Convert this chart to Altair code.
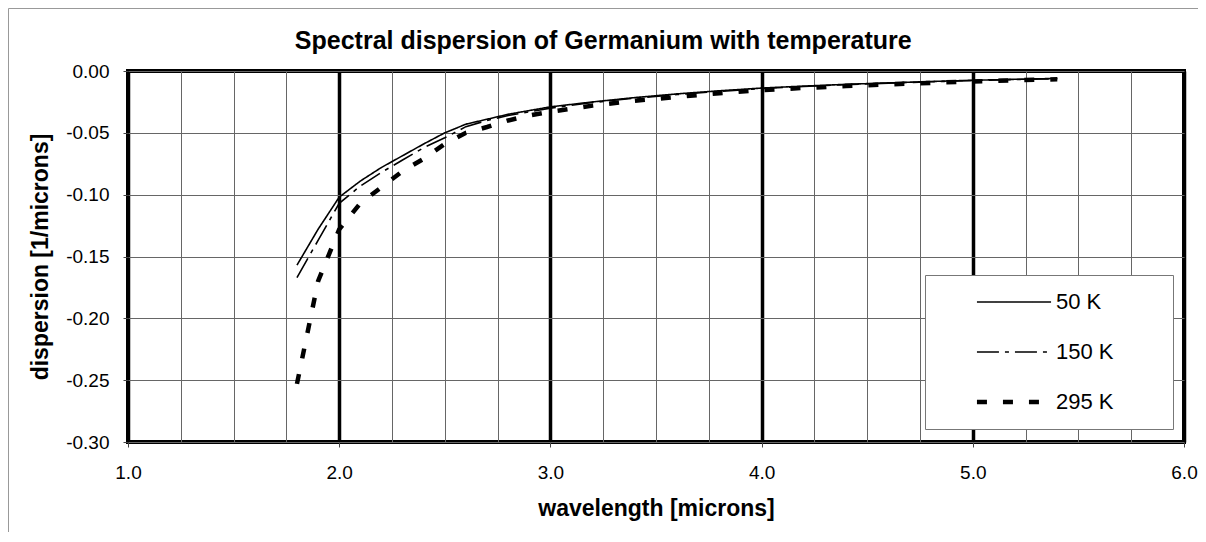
import altair as alt
import pandas as pd

# ---- data ----
series_names = ["50 K", "150 K", "295 K"]

wl = [1.8, 1.9, 2.0, 2.1, 2.2, 2.3, 2.4, 2.5, 2.6, 2.7, 2.8, 2.9, 3.0,
      3.2, 3.4, 3.6, 3.8, 4.0, 4.2, 4.4, 4.6, 4.8, 5.0, 5.2, 5.4]

disp_50 = [-0.157, -0.128, -0.102, -0.089, -0.078, -0.0685, -0.059, -0.050, -0.043,
           -0.039, -0.035, -0.032, -0.029, -0.025, -0.0215, -0.0185, -0.016, -0.0138,
           -0.0122, -0.0108, -0.0096, -0.0085, -0.0075, -0.0067, -0.0060]
disp_150 = [-0.167, -0.137, -0.107, -0.093, -0.082, -0.072, -0.062, -0.054, -0.045,
            -0.040, -0.036, -0.033, -0.030, -0.0255, -0.022, -0.019, -0.0165, -0.0142,
            -0.0125, -0.0110, -0.0098, -0.0087, -0.0077, -0.0069, -0.0062]
disp_295 = [-0.253, -0.170, -0.128, -0.107, -0.094, -0.081, -0.071, -0.059, -0.050,
            -0.0453, -0.040, -0.036, -0.033, -0.028, -0.024, -0.021, -0.018, -0.0155,
            -0.0137, -0.0122, -0.0108, -0.0096, -0.0085, -0.0075, -0.0067]

x_tick_values = [1.0, 1.25, 1.5, 1.75, 2.0, 2.25, 2.5, 2.75, 3.0, 3.25, 3.5, 3.75, 4.0,
                 4.25, 4.5, 4.75, 5.0, 5.25, 5.5, 5.75, 6.0]
y_tick_values = [-0.30, -0.25, -0.20, -0.15, -0.10, -0.05, 0.0]

frames = []
for name, vals in zip(series_names, [disp_50, disp_150, disp_295]):
    frames.append(pd.DataFrame({"wavelength": wl, "dispersion": vals, "series": name}))
df = pd.concat(frames, ignore_index=True)

FONT = "Liberation Sans"
W, H = 1056, 371
PAD_L, PAD_T, PAD_R, PAD_B = 120, 63, 14, 90
THIN, THICK = 1.6, 4.5

x_scale = alt.Scale(domain=[1.0, 6.0], nice=False, zero=False)
y_scale = alt.Scale(domain=[-0.30, 0.0], nice=False, zero=False)

legend = alt.Legend(
    title=None, orient="none", legendX=797, legendY=204, direction="vertical",
    fillColor="white", strokeColor="#777777", padding=16,
    # a horizontal stroke sample; the trailing move widens the legend box
    symbolType="M-3,0H3M10.8,0", symbolSize=610, symbolStrokeColor="black",
    symbolStrokeWidth={"expr": f"datum.value === '295 K' ? {THICK} : {THIN}"},
    symbolOffset=62, labelFont=FONT, labelFontSize=22, labelColor="black",
    labelOffset=31, rowPadding=28,
)

lines = alt.Chart(df).mark_line(color="black", clip=True).encode(
    x=alt.X("wavelength:Q", scale=x_scale, axis=alt.Axis(
        values=x_tick_values,
        labelExpr="datum.value % 1 === 0 ? format(datum.value, '.1f') : ''",
        labelFlush=False, labelOverlap=False,
        grid=True,
        gridColor={"condition": {"test": "datum.value % 1 === 0", "value": "black"}, "value": "#666666"},
        gridWidth={"condition": {"test": "datum.value % 1 === 0", "value": 3.5}, "value": 1},
        tickOpacity={"condition": {"test": "datum.value % 1 === 0", "value": 1}, "value": 0},
        tickColor="#444444", tickSize=5, domain=False,
        labelFont=FONT, labelFontSize=19, labelColor="black", labelPadding=16,
        title="wavelength [microns]", titleFont=FONT, titleFontSize=23,
        titleFontWeight="bold", titleColor="black", titlePadding=15,
    )),
    y=alt.Y("dispersion:Q", scale=y_scale, axis=alt.Axis(
        values=y_tick_values,
        labelExpr="datum.value === 0 ? '0.00' : '-' + format(-datum.value, '.2f')",
        grid=True, gridColor="#666666", gridWidth=1,
        tickColor="#444444", tickSize=5, domain=False,
        labelFont=FONT, labelFontSize=19, labelColor="black", labelPadding=14,
        title="dispersion [1/microns]", titleFont=FONT, titleFontSize=23,
        titleFontWeight="bold", titleColor="black", titlePadding=13,
    )),
    strokeDash=alt.StrokeDash("series:N", sort=series_names, scale=alt.Scale(
        domain=series_names, range=[[1, 0], [22, 6, 4, 6], [10, 16]]), legend=legend),
    strokeWidth=alt.condition("datum.series === '295 K'", alt.value(THICK), alt.value(THIN)),
)

border_df = pd.DataFrame({"k": [0]})
border_left = alt.Chart(border_df).mark_rule(color="#999999", strokeWidth=1).encode(
    x=alt.value(-PAD_L + 0.5), y=alt.value(-PAD_T + 0.5), y2=alt.value(H + PAD_B))
border_top = alt.Chart(border_df).mark_rule(color="#999999", strokeWidth=1).encode(
    x=alt.value(-PAD_L + 0.5), x2=alt.value(W + PAD_R), y=alt.value(-PAD_T + 0.5))

chart = alt.layer(lines, border_left, border_top).properties(
    width=W, height=H,
    background="white",
    title=alt.TitleParams(
        "Spectral dispersion of Germanium with temperature",
        font=FONT, fontSize=25, fontWeight="bold", color="black",
        anchor="middle", frame="bounds", baseline="alphabetic", offset=-66),
    autosize=alt.AutoSizeParams(type="none"),
    padding={"left": PAD_L, "top": PAD_T, "right": PAD_R, "bottom": PAD_B},
).configure_view(
    stroke="black", strokeWidth=4
)

chart.save("out.html", embed_options={"renderer": "svg", "actions": False})
